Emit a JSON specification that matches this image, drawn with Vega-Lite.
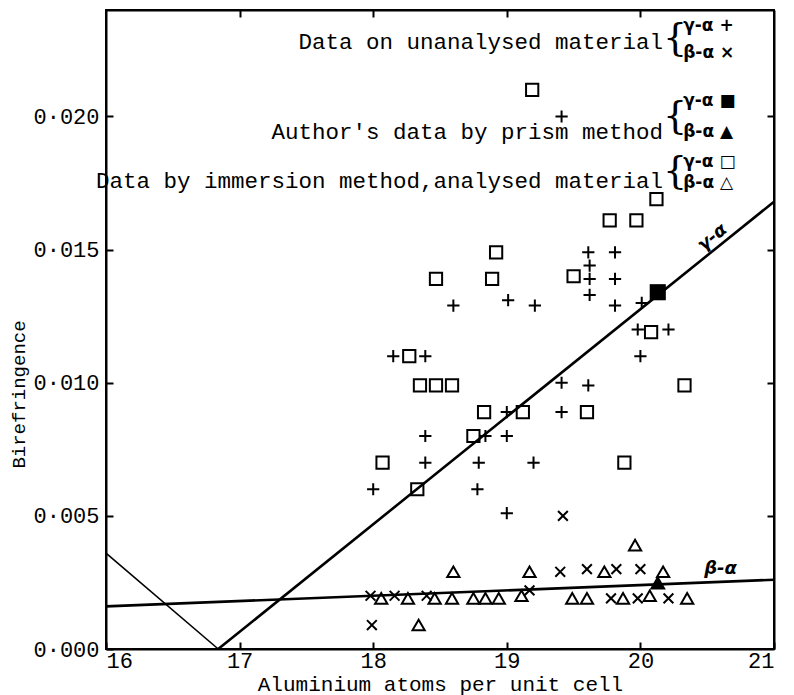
{
  "$schema": "https://vega.github.io/schema/vega-lite/v6.json",
  "width": 668,
  "height": 639,
  "autosize": {"type": "none"},
  "padding": {"left": 106, "top": 10, "right": 20, "bottom": 46},
  "background": "white",
  "config": {
    "view": {"stroke": "black", "strokeWidth": 2},
    "font": "Liberation Mono",
    "axis": {
      "grid": false,
      "domainColor": "black",
      "domainWidth": 2,
      "tickColor": "black",
      "tickWidth": 2,
      "labelColor": "black",
      "titleColor": "black",
      "labelFont": "Liberation Mono",
      "titleFont": "Liberation Mono",
      "titleFontWeight": "normal"
    }
  },
  "datasets": {
    "lines": [
      {"series": "v", "x": 16.0, "y": 0.0036},
      {"series": "v", "x": 16.84, "y": 0.0},
      {"series": "gamma", "x": 16.84, "y": 0.0},
      {"series": "gamma", "x": 21.0, "y": 0.0168},
      {"series": "beta", "x": 16.0, "y": 0.0016},
      {"series": "beta", "x": 21.0, "y": 0.0026}
    ],
    "points": [
      {"type": "g_u", "x": 19.41, "y": 0.0200},
      {"type": "g_u", "x": 19.61, "y": 0.0149},
      {"type": "g_u", "x": 19.81, "y": 0.0149},
      {"type": "g_u", "x": 19.62, "y": 0.0144},
      {"type": "g_u", "x": 19.62, "y": 0.0139},
      {"type": "g_u", "x": 19.81, "y": 0.0139},
      {"type": "g_u", "x": 19.62, "y": 0.0133},
      {"type": "g_u", "x": 18.60, "y": 0.0129},
      {"type": "g_u", "x": 19.01, "y": 0.0131},
      {"type": "g_u", "x": 19.21, "y": 0.0129},
      {"type": "g_u", "x": 19.81, "y": 0.0129},
      {"type": "g_u", "x": 20.01, "y": 0.0130},
      {"type": "g_u", "x": 19.98, "y": 0.0120},
      {"type": "g_u", "x": 20.21, "y": 0.0120},
      {"type": "g_u", "x": 18.15, "y": 0.0110},
      {"type": "g_u", "x": 18.39, "y": 0.0110},
      {"type": "g_u", "x": 20.00, "y": 0.0110},
      {"type": "g_u", "x": 19.41, "y": 0.0100},
      {"type": "g_u", "x": 19.61, "y": 0.0099},
      {"type": "g_u", "x": 19.00, "y": 0.0089},
      {"type": "g_u", "x": 19.41, "y": 0.0089},
      {"type": "g_u", "x": 18.39, "y": 0.0080},
      {"type": "g_u", "x": 18.84, "y": 0.0080},
      {"type": "g_u", "x": 19.00, "y": 0.0080},
      {"type": "g_u", "x": 18.39, "y": 0.0070},
      {"type": "g_u", "x": 18.79, "y": 0.0070},
      {"type": "g_u", "x": 19.20, "y": 0.0070},
      {"type": "g_u", "x": 18.00, "y": 0.0060},
      {"type": "g_u", "x": 18.78, "y": 0.0060},
      {"type": "g_u", "x": 19.00, "y": 0.0051},
      {"type": "b_u", "x": 19.42, "y": 0.0050},
      {"type": "b_u", "x": 19.40, "y": 0.0029},
      {"type": "b_u", "x": 19.60, "y": 0.0030},
      {"type": "b_u", "x": 19.82, "y": 0.0030},
      {"type": "b_u", "x": 20.00, "y": 0.0030},
      {"type": "b_u", "x": 17.98, "y": 0.0020},
      {"type": "b_u", "x": 18.16, "y": 0.0020},
      {"type": "b_u", "x": 18.40, "y": 0.0020},
      {"type": "b_u", "x": 19.17, "y": 0.0022},
      {"type": "b_u", "x": 19.78, "y": 0.0019},
      {"type": "b_u", "x": 19.98, "y": 0.0019},
      {"type": "b_u", "x": 20.21, "y": 0.0019},
      {"type": "b_u", "x": 17.99, "y": 0.0009},
      {"type": "b_i", "x": 18.60, "y": 0.0029},
      {"type": "b_i", "x": 19.17, "y": 0.0029},
      {"type": "b_i", "x": 19.73, "y": 0.0029},
      {"type": "b_i", "x": 20.17, "y": 0.0029},
      {"type": "b_i", "x": 19.96, "y": 0.0039},
      {"type": "b_i", "x": 18.06, "y": 0.0019},
      {"type": "b_i", "x": 18.26, "y": 0.0019},
      {"type": "b_i", "x": 18.46, "y": 0.0019},
      {"type": "b_i", "x": 18.59, "y": 0.0019},
      {"type": "b_i", "x": 18.75, "y": 0.0019},
      {"type": "b_i", "x": 18.84, "y": 0.0019},
      {"type": "b_i", "x": 18.94, "y": 0.0019},
      {"type": "b_i", "x": 19.11, "y": 0.0020},
      {"type": "b_i", "x": 19.49, "y": 0.0019},
      {"type": "b_i", "x": 19.60, "y": 0.0019},
      {"type": "b_i", "x": 19.87, "y": 0.0019},
      {"type": "b_i", "x": 20.07, "y": 0.0020},
      {"type": "b_i", "x": 20.35, "y": 0.0019},
      {"type": "b_i", "x": 18.34, "y": 0.0009},
      {"type": "g_i", "x": 19.19, "y": 0.0210},
      {"type": "g_i", "x": 20.12, "y": 0.0169},
      {"type": "g_i", "x": 19.77, "y": 0.0161},
      {"type": "g_i", "x": 19.97, "y": 0.0161},
      {"type": "g_i", "x": 18.92, "y": 0.0149},
      {"type": "g_i", "x": 18.47, "y": 0.0139},
      {"type": "g_i", "x": 18.89, "y": 0.0139},
      {"type": "g_i", "x": 19.50, "y": 0.0140},
      {"type": "g_i", "x": 20.08, "y": 0.0119},
      {"type": "g_i", "x": 18.27, "y": 0.0110},
      {"type": "g_i", "x": 18.35, "y": 0.0099},
      {"type": "g_i", "x": 18.47, "y": 0.0099},
      {"type": "g_i", "x": 18.59, "y": 0.0099},
      {"type": "g_i", "x": 20.33, "y": 0.0099},
      {"type": "g_i", "x": 18.83, "y": 0.0089},
      {"type": "g_i", "x": 19.12, "y": 0.0089},
      {"type": "g_i", "x": 19.60, "y": 0.0089},
      {"type": "g_i", "x": 18.75, "y": 0.0080},
      {"type": "g_i", "x": 18.07, "y": 0.0070},
      {"type": "g_i", "x": 19.88, "y": 0.0070},
      {"type": "g_i", "x": 18.33, "y": 0.0060}
    ],
    "filled": [
      {"type": "g_p", "x": 20.13, "y": 0.0134},
      {"type": "b_p", "x": 20.13, "y": 0.0025}
    ],
    "notes": [
      {"x": 20.17, "y": 0.0228, "text": "Data on unanalysed material"},
      {"x": 20.17, "y": 0.0194, "text": "Author's data by prism method"},
      {"x": 20.17, "y": 0.01756, "text": "Data by immersion method,analysed material"}
    ],
    "braces": [
      {"x": 20.26, "y": 0.0229, "text": "{"},
      {"x": 20.26, "y": 0.0200, "text": "{"},
      {"x": 20.26, "y": 0.0179, "text": "{"}
    ],
    "keys": [
      {"x": 20.32, "y": 0.0234, "text": "γ-α +"},
      {"x": 20.32, "y": 0.0224, "text": "β-α ×"},
      {"x": 20.32, "y": 0.0206, "text": "γ-α ■"},
      {"x": 20.32, "y": 0.0194, "text": "β-α ▲"},
      {"x": 20.32, "y": 0.0183, "text": "γ-α □"},
      {"x": 20.32, "y": 0.0175, "text": "β-α △"}
    ],
    "lineLabels": [
      {"x": 20.54, "y": 0.01545, "text": "γ-α", "angle": -39},
      {"x": 20.6, "y": 0.0030, "text": "β-α", "angle": 0}
    ]
  },
  "resolve": {
    "axis": {"x": "independent", "y": "independent"},
    "scale": {"shape": "independent", "size": "independent"}
  },
  "layer": [
    {
      "data": {"name": "lines"},
      "transform": [{"filter": "datum.series === 'gamma'"}],
      "mark": {"type": "line", "color": "black", "strokeWidth": 2.6},
      "encoding": {
        "x": {
          "field": "x", "type": "quantitative",
          "scale": {"domain": [16, 21], "nice": false, "zero": false},
          "axis": {
            "orient": "bottom", "values": [16, 17, 18, 19, 20, 21],
            "format": "d", "tickSize": -7, "labelPadding": 8,
            "labelFontSize": 22, "title": "Aluminium atoms per unit cell",
            "titleFontSize": 21, "titlePadding": 2
          }
        },
        "y": {
          "field": "y", "type": "quantitative",
          "scale": {"domain": [0, 0.024], "nice": false, "zero": true},
          "axis": {
            "orient": "left", "values": [0, 0.005, 0.01, 0.015, 0.02],
            "labelExpr": "replace(format(datum.value, '.3f'), '.', '·')",
            "tickSize": -7, "labelPadding": 14, "labelFontSize": 22,
            "title": "Birefringence", "titleFontSize": 19,
            "titleX": -88, "titleY": 384, "titleBaseline": "middle", "titleAngle": -90
          }
        }
      }
    },
    {
      "data": {"name": "lines"},
      "transform": [{"filter": "datum.series === 'beta'"}],
      "mark": {"type": "line", "color": "black", "strokeWidth": 2.6},
      "encoding": {
        "x": {
          "field": "x", "type": "quantitative",
          "axis": {
            "orient": "top", "values": [17, 18, 19, 20],
            "labels": false, "tickSize": -7, "title": null
          }
        },
        "y": {
          "field": "y", "type": "quantitative",
          "axis": {
            "orient": "right", "values": [0.005, 0.01, 0.015, 0.02],
            "labels": false, "tickSize": -7, "title": null
          }
        }
      }
    },
    {
      "data": {"name": "lines"},
      "transform": [{"filter": "datum.series === 'v'"}],
      "mark": {"type": "line", "color": "black", "strokeWidth": 1.6},
      "encoding": {
        "x": {"field": "x", "type": "quantitative", "axis": null},
        "y": {"field": "y", "type": "quantitative", "axis": null}
      }
    },
    {
      "data": {"name": "points"},
      "mark": {"type": "point", "filled": false, "color": "black", "strokeWidth": 2, "opacity": 1},
      "encoding": {
        "x": {"field": "x", "type": "quantitative", "axis": null},
        "y": {"field": "y", "type": "quantitative", "axis": null},
        "shape": {
          "field": "type", "type": "nominal", "legend": null,
          "scale": {
            "domain": ["g_u", "b_u", "g_i", "b_i"],
            "range": ["M-1,0H1M0,-1V1", "M-0.8,-0.8L0.8,0.8M0.8,-0.8L-0.8,0.8", "square", "triangle-up"]
          }
        },
        "size": {
          "field": "type", "type": "nominal", "legend": null,
          "scale": {"domain": ["g_u", "b_u", "g_i", "b_i"], "range": [150, 150, 110, 100]}
        }
      }
    },
    {
      "data": {"name": "filled"},
      "mark": {"type": "point", "filled": true, "color": "black", "opacity": 1, "size": 260},
      "encoding": {
        "x": {"field": "x", "type": "quantitative", "axis": null},
        "y": {"field": "y", "type": "quantitative", "axis": null},
        "shape": {
          "field": "type", "type": "nominal", "legend": null,
          "scale": {"domain": ["g_p", "b_p"], "range": ["square", "triangle-up"]}
        }
      }
    },
    {
      "data": {"name": "notes"},
      "mark": {"type": "text", "align": "right", "baseline": "middle", "fontSize": 22.5, "font": "Liberation Mono", "color": "black"},
      "encoding": {
        "x": {"field": "x", "type": "quantitative", "axis": null},
        "y": {"field": "y", "type": "quantitative", "axis": null},
        "text": {"field": "text"}
      }
    },
    {
      "data": {"name": "braces"},
      "mark": {"type": "text", "align": "center", "baseline": "middle", "fontSize": 38, "font": "DejaVu Serif", "color": "black"},
      "encoding": {
        "x": {"field": "x", "type": "quantitative", "axis": null},
        "y": {"field": "y", "type": "quantitative", "axis": null},
        "text": {"field": "text"}
      }
    },
    {
      "data": {"name": "keys"},
      "mark": {"type": "text", "align": "left", "baseline": "middle", "fontSize": 17, "fontWeight": "bold", "font": "DejaVu Sans", "color": "black"},
      "encoding": {
        "x": {"field": "x", "type": "quantitative", "axis": null},
        "y": {"field": "y", "type": "quantitative", "axis": null},
        "text": {"field": "text"}
      }
    },
    {
      "data": {"name": "lineLabels"},
      "mark": {"type": "text", "align": "center", "baseline": "middle", "fontSize": 18, "fontWeight": "bold", "fontStyle": "italic", "font": "DejaVu Sans", "color": "black"},
      "encoding": {
        "x": {"field": "x", "type": "quantitative", "axis": null},
        "y": {"field": "y", "type": "quantitative", "axis": null},
        "text": {"field": "text"},
        "angle": {"field": "angle", "type": "quantitative", "scale": null}
      }
    }
  ]
}
